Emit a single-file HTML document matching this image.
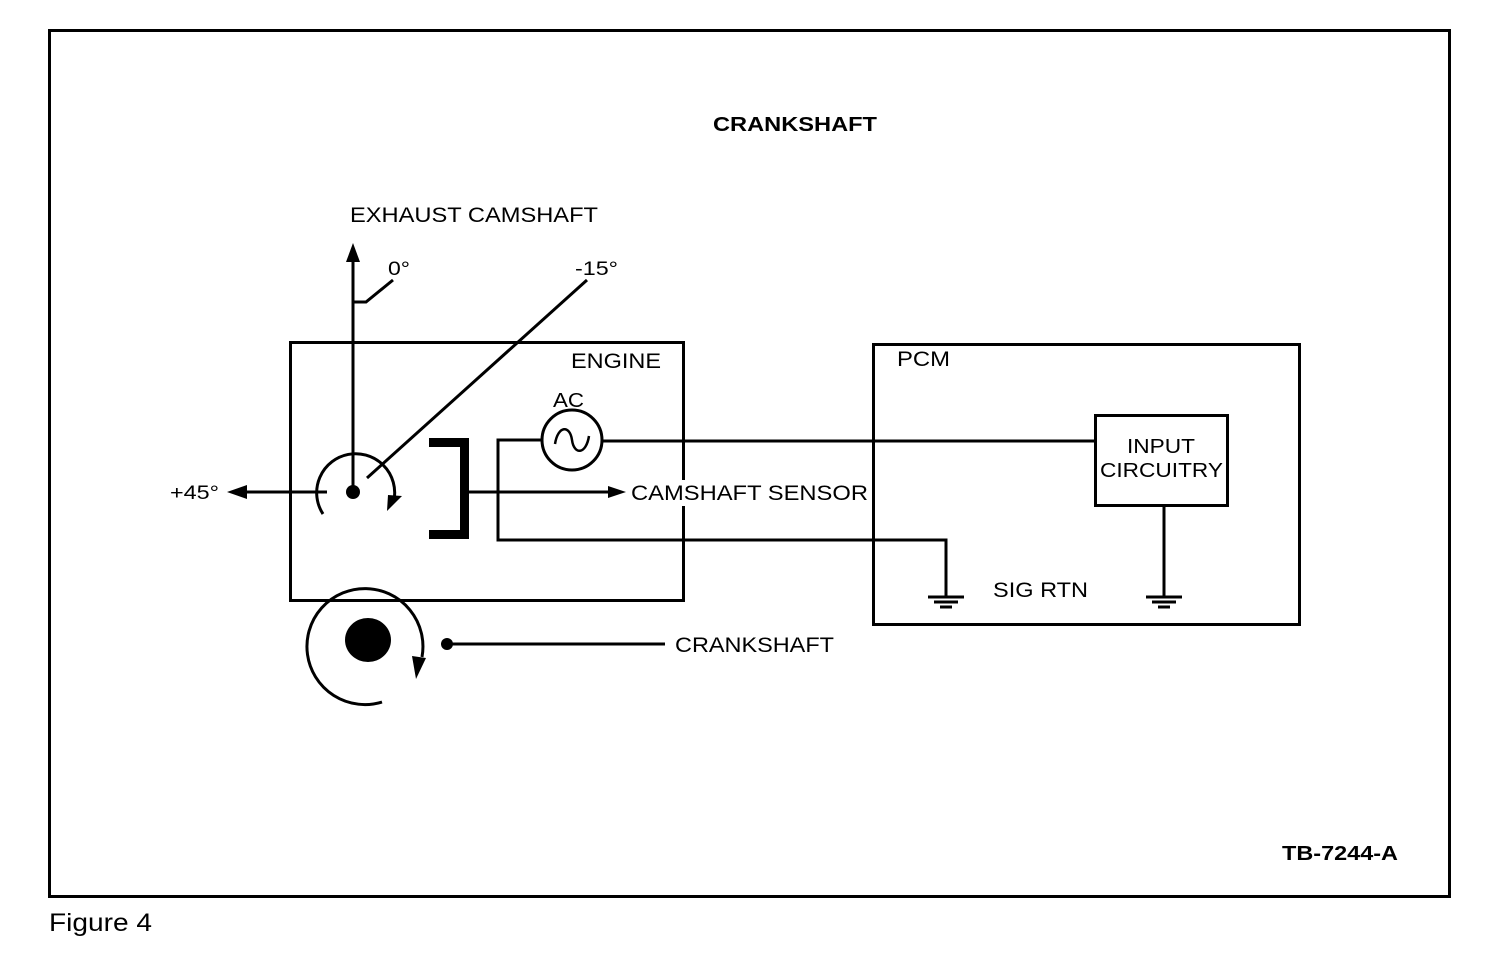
<!DOCTYPE html>
<html><head><style>
html,body{margin:0;padding:0;background:#fff;}
svg{display:block;}
text{font-family:"Liberation Sans",Arial,sans-serif;fill:#000;}
</style></head><body>
<svg width="1504" height="962" viewBox="0 0 1504 962" xmlns="http://www.w3.org/2000/svg">
<g fill="none" stroke="#000" stroke-width="3">
<rect x="49.5" y="30.5" width="1400" height="866"/>
<rect x="290.5" y="342.5" width="393" height="258"/>
<rect x="873.5" y="344.5" width="426" height="280"/>
<rect x="1095.5" y="415.5" width="132" height="90"/>
<line x1="353" y1="255" x2="353" y2="492"/>
<polyline points="353,302 366,302 393,280"/>
<line x1="367" y1="478" x2="587" y2="280"/>
<line x1="327" y1="492" x2="240" y2="492"/>
<path d="M323,514 A39,39 0 1 1 394,500"/>
<line x1="468" y1="492" x2="612" y2="492"/>
<polyline points="542,440 498,440 498,540 946,540 946,596"/>
<line x1="603" y1="441" x2="1095" y2="441"/>
<line x1="1164" y1="505" x2="1164" y2="596"/>
<circle cx="572" cy="440" r="30"/>
<path d="M555,444 C558,425 570,425 572,440 C574,455 586,455 589,436" stroke-width="2.5"/>
<path d="M382,702 A58,58 0 1 1 422,657"/>
<line x1="447" y1="644" x2="665" y2="644"/>
<line x1="928" y1="597" x2="964" y2="597"/>
<line x1="934" y1="602" x2="958" y2="602"/>
<line x1="940" y1="607" x2="952" y2="607"/>
<line x1="1146" y1="597" x2="1182" y2="597"/>
<line x1="1152" y1="602" x2="1176" y2="602"/>
<line x1="1158" y1="607" x2="1170" y2="607"/>
</g>
<g fill="#000">
<polygon points="353,243 346,262 360,262"/>
<polygon points="227,492 247,485 247,499"/>
<polygon points="626,492 608,486 608,498"/>
<polygon points="387,511 402,496 388,495"/>
<polygon points="416,679 426,658 412,656"/>
<circle cx="353" cy="492" r="7"/>
<ellipse cx="368" cy="640" rx="23" ry="22"/>
<circle cx="447" cy="644" r="6"/>
<path d="M429,438 H469 V539 H429 V530 H460 V447 H429 Z"/>
</g>
<rect x="628" y="480" width="242" height="26" fill="#fff"/>
<text x="713" y="131" font-size="20" font-weight="bold" textLength="164" lengthAdjust="spacingAndGlyphs">CRANKSHAFT</text>
<text x="350" y="222" font-size="21" textLength="248" lengthAdjust="spacingAndGlyphs">EXHAUST CAMSHAFT</text>
<text x="388" y="275" font-size="19" textLength="22" lengthAdjust="spacingAndGlyphs">0°</text>
<text x="575" y="275" font-size="19" textLength="43" lengthAdjust="spacingAndGlyphs">-15°</text>
<text x="170" y="499" font-size="19" textLength="49" lengthAdjust="spacingAndGlyphs">+45°</text>
<text x="571" y="368" font-size="21" textLength="90" lengthAdjust="spacingAndGlyphs">ENGINE</text>
<text x="897" y="366" font-size="21" textLength="53" lengthAdjust="spacingAndGlyphs">PCM</text>
<text x="553" y="407" font-size="20" textLength="31" lengthAdjust="spacingAndGlyphs">AC</text>
<text x="631" y="500" font-size="21" textLength="237" lengthAdjust="spacingAndGlyphs">CAMSHAFT SENSOR</text>
<text x="1127" y="453" font-size="20" textLength="68" lengthAdjust="spacingAndGlyphs">INPUT</text>
<text x="1100" y="477" font-size="20" textLength="123" lengthAdjust="spacingAndGlyphs">CIRCUITRY</text>
<text x="993" y="597" font-size="21" textLength="95" lengthAdjust="spacingAndGlyphs">SIG RTN</text>
<text x="675" y="652" font-size="21" textLength="159" lengthAdjust="spacingAndGlyphs">CRANKSHAFT</text>
<text x="1282" y="860" font-size="20" font-weight="bold" textLength="116" lengthAdjust="spacingAndGlyphs">TB-7244-A</text>
<text x="49" y="931" font-size="25" textLength="103" lengthAdjust="spacingAndGlyphs">Figure 4</text>
</svg>
</body></html>
